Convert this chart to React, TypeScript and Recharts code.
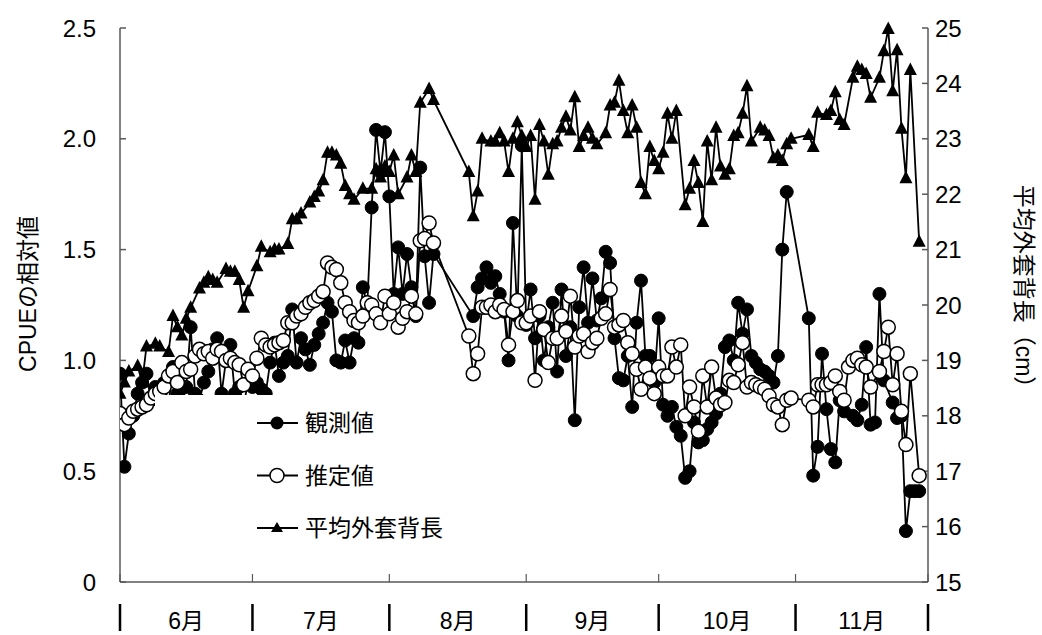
import { LineChart, Line, XAxis, YAxis, Legend } from 'recharts'

// day index 0 = 6/1, 183 = 12/1
const monthEdges = [0, 30, 61, 92, 122, 153, 183]
const monthNames = ['6月', '7月', '8月', '9月', '10月', '11月']

// 観測値 (CPUE relative), one entry per day, null = no sample
const observed: (number | null)[] = [
  0.94, 0.52, 0.67, 0.75, 0.85, 0.9, 0.94, 0.82, 0.88, 0.85,
  0.9, 0.8, 0.97, 0.85, 0.8, 0.88, 1.15, 0.85, 0.82, 0.9,
  0.95, 1.05, 1.1, 0.85, 1.0, 1.07, 0.85, 0.88, 0.8, 0.9,
  0.88, 0.9, 0.87, 0.85, 0.99, 1.08, 0.93, 0.99, 1.02, 1.23,
  0.99, 1.1, 1.05, 0.98, 1.07, 1.12, 1.17, 1.26, 1.22, 1.0,
  0.99, 1.09, 0.99, 1.1, 1.08, 1.33, 1.25, 1.69, 2.04, 1.85,
  2.03, 1.74, 1.3, 1.51, 1.3, 1.48, 1.33, 1.2, 1.87, 1.47,
  1.26, 1.48, null, null, null, null, null, null, null, null,
  1.2, 1.33, 1.37, 1.42, 1.35, 1.38, 1.3, 1.22, 1.0, 1.62,
  1.2, 1.97, 1.16, 1.32, 1.1, 1.2, 1.0, 1.15, 1.26, 0.95,
  1.32, 1.02, 1.15, 0.73, 1.24, 1.42, 1.17, 1.37, 1.18, 1.28,
  1.49, 1.44, 1.1, 0.92, 0.91, 1.02, 0.79, 1.17, 1.36, 1.02,
  1.02, 0.9, 1.19, 0.8, 0.75, 0.79, 0.7, 0.66, 0.47, 0.5,
  0.72, 0.63, 0.64, 0.69, 0.72, 0.76, 0.85, 1.06, 1.09, 1.0,
  1.26, 1.12, 1.23, 1.02, 0.99, 0.96, 0.95, 0.93, 0.9, 1.02,
  1.5, 1.76, null, null, null, null, 1.19, 0.48, 0.61, 1.03,
  0.78, 0.6, 0.54, 0.82, 0.77, null, 0.75, 0.73, 0.8, 1.06,
  0.71, 0.72, 1.3, 0.91, null, 0.81, 0.74, 0.75, 0.23, 0.41,
  0.41, 0.41,
]

// 推定値
const estimated: (number | null)[] = [
  0.76, 0.71, 0.74, 0.77, 0.78, 0.79, 0.8, 0.83, 0.85, 0.86,
  0.88, 0.93, 0.95, 0.9, 0.99, 0.95, 0.96, 1.02, 1.05, 1.03,
  1.04, 1.01, 1.05, 1.04, 1.0, 1.01, 0.99, 0.98, 0.89, 0.96,
  0.93, 1.01, 1.1, 1.07, 1.06, 1.07, 1.08, 1.09, 1.17, 1.17,
  1.2, 1.21, 1.24, 1.26, 1.27, 1.29, 1.31, 1.44, 1.42, 1.41,
  1.35, 1.26, 1.22, 1.18, 1.17, 1.2, 1.26, 1.25, 1.21, 1.17,
  1.29, 1.21, 1.26, 1.15, 1.19, 1.22, 1.29, 1.21, 1.54, 1.55,
  1.62, 1.53, null, null, null, null, null, null, null, 1.11,
  0.94, 1.03, 1.24, 1.24, 1.25, 1.22, 1.25, 1.23, 1.07, 1.22,
  1.27, 1.17, 1.17, 1.2, 0.91, 1.22, 1.14, 0.99, 1.1, 1.1,
  1.2, 1.13, 1.29, 1.06, 1.11, 1.12, 1.04, 1.08, 1.1, 1.19,
  1.21, 1.32, 1.15, 1.16, 1.18, 1.08, 1.03, 0.96, 0.87, 0.97,
  0.92, 0.85, 0.97, 0.93, 0.93, 1.06, 0.97, 1.07, 0.75, 0.88,
  0.79, 0.68, 0.93, 0.79, 0.97, 0.83, 0.8, 0.81, 0.91, 0.9,
  0.98, 1.08, 0.88, 0.9, 0.89, 0.88, 0.87, 0.84, 0.8, 0.79,
  0.71, 0.82, 0.83, null, null, null, 0.82, 0.79, 0.89, 0.89,
  0.89, 0.9, 0.93, 0.86, 0.82, 0.97, 1.0, 1.01, 0.98, 0.97,
  0.88, null, 0.95, 1.04, 1.15, 0.89, 1.03, 0.77, 0.62, 0.94,
  null, 0.48,
]

// 平均外套背長 (cm)
const mantleLength: (number | null)[] = [
  18.4, 18.6, 18.8, null, 18.9, 18.6, 19.25, null, 19.3, 19.25,
  null, 19.15, 19.8, 19.6, 19.45, 19.75, 19.95, null, 20.3, 20.4,
  20.5, 20.45, 20.4, null, 20.65, 20.6, 20.6, 20.45, 19.95, 20.25,
  null, 20.7, 21.05, null, 20.95, 21.0, 21.0, null, 21.1, 21.55,
  21.55, 21.65, null, 21.85, 21.95, 22.05, 22.25, 22.75, 22.75, 22.7,
  22.55, 22.15, 22.0, 21.9, null, 22.1, null, 22.1, 22.45, 22.3,
  22.5, 22.4, 22.7, 22.0, null, 22.3, 22.7, 22.4, 23.65, null,
  23.9, 23.7, null, null, null, null, null, null, null, 22.4,
  21.6, 22.05, 23.0, null, 22.95, 22.95, 23.1, 22.95, 22.4, 23.0,
  23.3, 23.05, 22.85, 23.05, 21.9, 23.25, 22.95, 22.35, 22.9, 22.95,
  23.2, 23.4, 23.15, 23.75, 22.85, 23.05, 23.2, 23.0, 22.9, null,
  23.1, 23.6, 23.65, 24.05, 23.5, 23.1, 23.6, 23.2, 22.2, 22.0,
  22.85, 22.6, 22.45, 22.75, 23.45, 23.0, 23.5, null, 21.8, 22.1,
  22.6, 22.2, 21.5, 22.95, 22.25, 23.2, 22.5, 22.35, 22.45, 23.05,
  23.1, 23.45, 23.95, 22.95, null, 23.2, 23.15, 23.05, 22.65, 22.7,
  22.6, 22.9, 23.0, null, null, null, 23.07, 22.85, 23.47, null,
  23.43, 23.5, 23.84, 23.34, 23.25, null, 24.1, 24.3, 24.24, 24.17,
  23.74, null, 24.1, 24.58, 24.98, 23.86, 24.6, 23.18, 22.29, 24.24,
  null, 21.14,
]

const leftTicks = [0, 0.5, 1, 1.5, 2, 2.5]
const rightTicks = [15, 16, 17, 18, 19, 20, 21, 22, 23, 24, 25]

const data = observed.map((v, i) => ({
  day: i,
  obs: v,
  est: estimated[i],
  len: mantleLength[i],
}))

const monthMids = monthNames.map((_, i) => (monthEdges[i] + monthEdges[i + 1]) / 2)
const xTicks = [...monthEdges, ...monthMids].sort((a, b) => a - b)

const FONT = "'Liberation Sans', 'Noto Sans CJK JP', sans-serif"
const AXIS = '#595959'

function MonthTick(props: any) {
  const { x, y, payload } = props
  const v = payload.value
  const edge = monthEdges.indexOf(v)
  if (edge >= 0) {
    return (
      <g>
        <line x1={x} y1={y} x2={x} y2={y - 8} stroke={AXIS} strokeWidth={1.2} />
        <line x1={x} y1={y + 22} x2={x} y2={y + 49} stroke="#000" strokeWidth={2.5} />
      </g>
    )
  }
  const m = monthMids.indexOf(v)
  return (
    <text x={x} y={y + 47} textAnchor="middle" fontSize={23} fontFamily={FONT} fill="#000">
      {monthNames[m]}
    </text>
  )
}

function FilledDot(props: any) {
  const { cx, cy, index } = props
  if (cy == null || isNaN(cy)) return <g key={index} />
  return <circle key={index} cx={cx} cy={cy} r={6.5} fill="#000" stroke="#000" strokeWidth={1} />
}

function OpenDot(props: any) {
  const { cx, cy, index } = props
  if (cy == null || isNaN(cy)) return <g key={index} />
  return <circle key={index} cx={cx} cy={cy} r={7} fill="#fff" stroke="#000" strokeWidth={1.5} />
}

function TriDot(props: any) {
  const { cx, cy, index } = props
  if (cy == null || isNaN(cy)) return <g key={index} />
  return (
    <polygon
      key={index}
      points={`${cx},${cy - 7.5} ${cx - 6.5},${cy + 5} ${cx + 6.5},${cy + 5}`}
      fill="#000"
    />
  )
}

function LegendBox() {
  const rows = [
    { label: '観測値', kind: 'filled' },
    { label: '推定値', kind: 'open' },
    { label: '平均外套背長', kind: 'tri' },
  ]
  return (
    <svg width={330} height={160}>
      {rows.map((r, i) => {
        const cy = 28 + i * 52.5
        return (
          <g key={r.label}>
            <line x1={102} y1={cy} x2={143} y2={cy} stroke="#000" strokeWidth={1.8} />
            {r.kind === 'filled' && <circle cx={122} cy={cy} r={6.5} fill="#000" />}
            {r.kind === 'open' && (
              <circle cx={122} cy={cy} r={7} fill="#fff" stroke="#000" strokeWidth={1.5} />
            )}
            {r.kind === 'tri' && (
              <polygon points={`122,${cy - 6} 116,${cy + 4} 128,${cy + 4}`} fill="#000" />
            )}
            <text x={150} y={cy + 8} fontSize={23} fontFamily={FONT} fill="#000">
              {r.label}
            </text>
          </g>
        )
      })}
    </svg>
  )
}

export default function App() {
  return (
    <div style={{ position: 'absolute', left: 0, top: 0, width: 1042, height: 635, background: '#fff' }}>
      <LineChart width={1042} height={635} data={data} margin={{ top: 28, right: 0, left: 0, bottom: 0 }}>
        <XAxis
          dataKey="day"
          type="number"
          domain={[0, 183]}
          ticks={xTicks}
          interval={0}
          tick={<MonthTick />}
          tickLine={false}
          tickSize={0}
          tickMargin={0}
          height={53}
          stroke={AXIS}
          strokeWidth={1.5}
          allowDataOverflow
        />
        <YAxis
          yAxisId="left"
          domain={[0, 2.5]}
          ticks={leftTicks}
          width={120}
          tickSize={-6}
          tickMargin={30}
          tickFormatter={(v: number) => (v === 0 ? '0' : v.toFixed(1))}
          tick={{ fontSize: 24, fontFamily: FONT, fill: '#000' }}
          stroke={AXIS}
          strokeWidth={1.5}
          interval={0}
          label={{
            content: () => (
              <text
                transform="translate(28, 294) rotate(-90)"
                textAnchor="middle"
                dominantBaseline="central"
                fontSize={23}
                fontFamily={FONT}
                fill="#000"
              >
                CPUEの相対値
              </text>
            ),
          }}
        />
        <YAxis
          yAxisId="right"
          orientation="right"
          domain={[15, 25]}
          ticks={rightTicks}
          width={114}
          tickSize={-6}
          tickMargin={13}
          tick={{ fontSize: 24, fontFamily: FONT, fill: '#000' }}
          stroke={AXIS}
          strokeWidth={1.5}
          interval={0}
          label={{
            content: () => (
              <text
                transform="translate(1024, 292) rotate(90)"
                textAnchor="middle"
                dominantBaseline="central"
                fontSize={23}
                fontFamily={FONT}
                fill="#000"
              >
                平均外套背長（cm）
              </text>
            ),
          }}
        />
        <Legend
          layout="vertical"
          align="center"
          verticalAlign="middle"
          content={() => <LegendBox />}
          wrapperStyle={{ left: 155, top: 395, width: 330, height: 160, background: '#fff' }}
        />
        <Line
          yAxisId="right"
          dataKey="len"
          stroke="#000"
          strokeWidth={1.8}
          dot={<TriDot />}
          activeDot={false}
          connectNulls
          isAnimationActive={false}
        />
        <Line
          yAxisId="left"
          dataKey="obs"
          stroke="#000"
          strokeWidth={1.8}
          dot={<FilledDot />}
          activeDot={false}
          connectNulls
          isAnimationActive={false}
        />
        <Line
          yAxisId="left"
          dataKey="est"
          stroke="#000"
          strokeWidth={1.8}
          dot={<OpenDot />}
          activeDot={false}
          connectNulls
          isAnimationActive={false}
        />
      </LineChart>
    </div>
  )
}
